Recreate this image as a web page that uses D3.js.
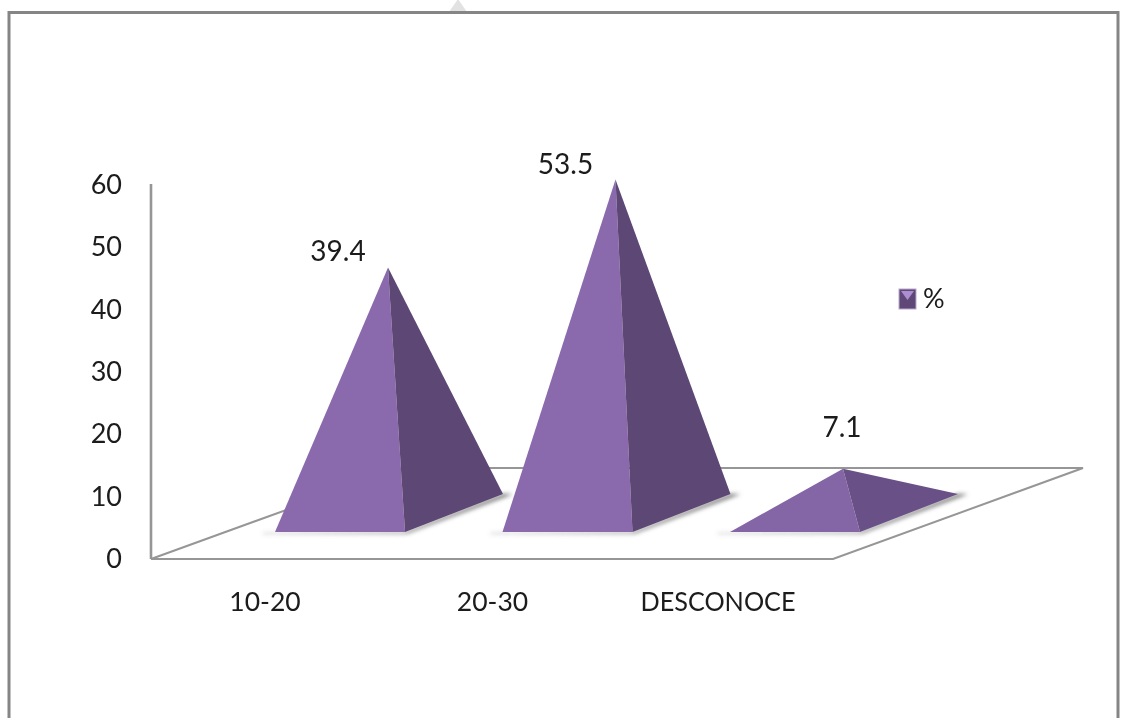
<!DOCTYPE html>
<html><head><meta charset="utf-8">
<script src="https://cdn.jsdelivr.net/npm/d3@7"></script>
<style>html,body{margin:0;background:#fff}svg{display:block}text{font-family:Lato,'Open Sans',sans-serif;fill:#1a1a1a}</style>
</head><body><svg id="c" width="1127" height="718"></svg>
<script>
const categories=["10-20","20-30","DESCONOCE"];
const values=[39.4,53.5,7.1];
const valueLabels=["39.4","53.5","7.1"];
const yTicks=[0,10,20,30,40,50,60];
const legendLabel="%";

const svg=d3.select("#c");
const y=d3.scaleLinear().domain([0,60]).range([558,184]);
const x=d3.scalePoint().domain(categories).range([340,795]);
const baseHalf=65, depthX=98, depthY=38, baseY=532;
const gray="#969696";

const defs=svg.append("defs");
const blur=defs.append("filter").attr("id","sh").attr("x","-20%").attr("y","-300%").attr("width","140%").attr("height","700%");
blur.append("feGaussianBlur").attr("stdDeviation",2);
const blur2=defs.append("filter").attr("id","soft");
blur2.append("feGaussianBlur").attr("stdDeviation",0.5);
const blur3=defs.append("filter").attr("id","txt");
blur3.append("feGaussianBlur").attr("stdDeviation",0.3);

// watermark and frame
svg.append("path").attr("d",d3.line()([[449,12],[458,-1],[467,12]])).attr("fill","#e2e2e2");
svg.append("path").attr("d","M9,718V12.5H1118V718").attr("fill","none").attr("stroke","#858585").attr("stroke-width",3);

// floor and wall
const floor=svg.append("g").attr("fill","none").attr("stroke",gray).attr("stroke-width",2);
floor.append("path").attr("d",d3.line()([[151,184],[151,559]])).attr("stroke-width",2.6);
floor.append("path").attr("d",d3.line()([[151,559],[833,559],[1083,468],[402,468],[151,559]]));

// axis labels
svg.selectAll(".yt").data(yTicks).join("text").attr("class","yt")
  .attr("x",122).attr("y",d=>y(d)+10).attr("text-anchor","end").attr("font-size",27).attr("filter","url(#txt)").text(d=>d);
svg.selectAll(".xt").data(categories).join("text").attr("class","xt")
  .attr("x",(d,i)=>x(d)-75-(i==2?2:0)).attr("y",611).attr("text-anchor","middle").attr("font-size",26.5).attr("filter","url(#txt)")
  .attr("textLength",(d,i)=>i==2?155:null).attr("lengthAdjust","spacingAndGlyphs").text(d=>d);

// pyramids
const line=d3.line();
categories.forEach((c,i)=>{
  const cx=x(c), v=values[i];
  const fl=[cx-baseHalf,baseY], fr=[cx+baseHalf,baseY], br=[cx+baseHalf+depthX,baseY-depthY];
  const centre=baseY-depthY/2;
  const apex=[cx+depthX/2-1,centre-(y(0)-y(v))];
  const g=svg.append("g");
  g.append("path").attr("d",line([[fl[0]-12,baseY+1],fr,br,[br[0]+10,br[1]],[fr[0]+2,baseY+1.5],[fl[0]-12,baseY+1.5]]))
    .attr("fill","#6e6e6e").attr("filter","url(#sh)");
  g.append("path").attr("d",line([fl,fr,apex])+"Z").attr("fill",i==2?"#8465a5":"#8a6aad").attr("filter","url(#soft)");
  g.append("path").attr("d",line([fr,br,apex])+"Z").attr("fill",i==2?"#695188":"#5d4675").attr("filter","url(#soft)");
  svg.append("text").attr("x",apex[0]-(i==2?1:50)).attr("y",apex[1]-(i==2?32:(i==0?6:6)))
    .attr("text-anchor","middle").attr("font-size",28).attr("filter","url(#txt)").text(valueLabels[i]);
});

// legend
const lg=svg.append("g").attr("transform","translate(899,289)");
lg.append("rect").attr("width",17).attr("height",20).attr("fill","#5f4878").attr("stroke","#b9a8cc").attr("stroke-width",1);
lg.append("path").attr("d",line([[2,2],[15,2],[8.5,11]])+"Z").attr("fill","#ab8dd2");
svg.append("text").attr("x",923).attr("y",308).attr("font-size",27).attr("filter","url(#txt)").text(legendLabel);
</script></body></html>
